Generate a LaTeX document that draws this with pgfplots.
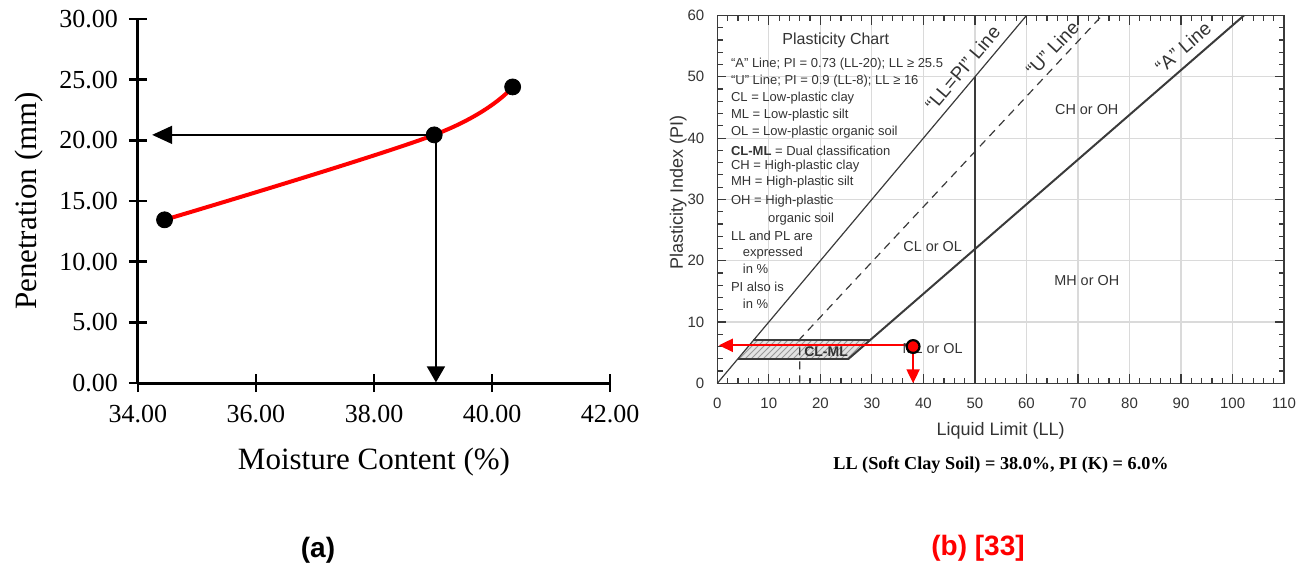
\documentclass[border=0pt]{standalone}
\usepackage{fontspec}
\setmainfont{Liberation Serif}
\newfontfamily\arial{Liberation Sans}
\usepackage{pgfplots}
\pgfplotsset{compat=1.18}
\usetikzlibrary{arrows.meta,patterns}
\definecolor{ink}{HTML}{3A3A3A}
\definecolor{txt}{HTML}{333333}
\definecolor{gridc}{HTML}{DADADA}
\newcommand{\lgd}{\arial\fontsize{6.5}{7.5}\selectfont}
\newcommand{\reg}{\arial\fontsize{7.2}{8.5}\selectfont}
\newcommand{\rot}{\arial\fontsize{9.5}{11}\selectfont}

\begin{document}
\begin{tikzpicture}
\useasboundingbox (0,0) rectangle (658pt,282pt);

% ===== (a) fall cone : penetration vs moisture =====
\begin{axis}[
  at={(69pt,90.5pt)}, anchor=south west,
  scale only axis, width=236pt, height=182pt,
  xmin=34, xmax=42, ymin=0, ymax=30,
  axis lines=left,
  axis line style={-, line width=1.5pt, black},
  xtick={34,36,38,40,42}, ytick={0,5,10,15,20,25,30},
  tick align=center, major tick length=9pt,
  tick style={line width=1.3pt, black},
  /pgf/number format/assume math mode=true,
  ticklabel style={font=\fontsize{13}{15}\selectfont,
    /pgf/number format/fixed, /pgf/number format/fixed zerofill,
    /pgf/number format/precision=2},
  xticklabel style={yshift=-3pt},
  yticklabel style={xshift=-2pt},
  xlabel={Moisture Content (\%)},
  ylabel={Penetration (mm)},
  xlabel style={at={(axis description cs:0.5,-0.217)}, anchor=center,
    font=\fontsize{15.5}{18}\selectfont},
  ylabel style={at={(axis description cs:-0.23,0.5)}, anchor=center,
    font=\fontsize{15.5}{18}\selectfont},
  clip=false,
]
  \addplot[red, line width=2pt, smooth, tension=0.6]
    coordinates {(34.45,13.45) (39.02,20.45) (40.35,24.4)};
  % read-off arrows at the measured point
  \addplot[black, line width=0.8pt, -{Triangle[length=10pt,width=9pt]}]
    coordinates {(39.02,20.45) (34.24,20.45)};
  \addplot[black, line width=0.8pt, -{Triangle[length=8pt,width=9pt]}]
    coordinates {(39.05,20.45) (39.05,0.05)};
  \addplot[only marks, mark=*, mark size=4pt, black]
    coordinates {(34.45,13.45) (39.02,20.45) (40.35,24.4)};
\end{axis}

% ===== (b) plasticity chart =====
\begin{axis}[
  at={(358.65pt,90.35pt)}, anchor=south west,
  scale only axis, width=283.4pt, height=183.9pt,
  xmin=0, xmax=110, ymin=0, ymax=60,
  xtick={0,10,...,110}, ytick={0,10,...,60},
  minor x tick num=4, minor y tick num=4,
  grid=major, major grid style={gridc, line width=0.6pt},
  tick align=inside, major tick length=4.5pt, minor tick length=2.8pt,
  tick style={ink, line width=0.6pt},
  axis line style={ink, line width=0.8pt},
  /pgf/number format/assume math mode=true,
  ticklabel style={font=\arial\fontsize{7.5}{9}\selectfont, text=txt},
  xticklabel style={yshift=-4pt},
  yticklabel style={xshift=-3pt},
  xlabel={Liquid Limit (LL)},
  ylabel={Plasticity Index (PI)},
  xlabel style={at={(axis description cs:0.5,-0.13)}, anchor=center,
    font=\arial\fontsize{9}{11}\selectfont, text=txt},
  ylabel style={at={(axis description cs:-0.069,0.52)}, anchor=center,
    font=\arial\fontsize{9}{11}\selectfont, text=txt},
  clip=false,
]
  % CL-ML hatched band
  \addplot[fill=gray!22, draw=none,
           postaction={pattern=north east lines, pattern color=gray!80}]
    coordinates {(4,4) (7,7) (29.59,7) (25.48,4)} -- cycle;
  \addplot[ink, line width=1pt] coordinates {(7,7) (29.59,7)};
  \addplot[ink, line width=0.8pt] coordinates {(4,4) (25.48,4)};

  % LL = PI line
  \addplot[ink, line width=0.6pt] coordinates {(0,0) (60,60)};
  % U line
  \addplot[ink, line width=0.6pt, dash pattern=on 4pt off 3pt]
    coordinates {(16,0) (16,7.2) (74.67,60)};
  % A line
  \addplot[ink, line width=1pt] coordinates {(25.48,4) (102.19,60)};
  % LL = 50
  \addplot[ink, line width=0.8pt] coordinates {(50,0) (50,50)};

  % red read-off
  \addplot[red, line width=1.1pt, -{Triangle[length=7pt,width=6.5pt]}]
    coordinates {(37.5,6.2) (0.3,6.2)};
  \addplot[red, line width=1.1pt, -{Triangle[length=7pt,width=6.5pt]}]
    coordinates {(38,6) (38,0)};

  % legend block
  \node[font=\arial\fontsize{8}{9.5}\selectfont, text=txt] at (axis cs:23,56.0) {Plasticity Chart};
  \node[font=\lgd, text=txt, anchor=west] at (axis cs:1.3,52.04) {“A” Line; PI = 0.73 (LL-20); LL ≥ 25.5};
  \node[font=\lgd, text=txt, anchor=west] at (axis cs:1.3,49.26) {“U” Line; PI = 0.9 (LL-8); LL ≥ 16};
  \node[font=\lgd, text=txt, anchor=west] at (axis cs:1.3,46.48) {CL = Low-plastic clay};
  \node[font=\lgd, text=txt, anchor=west] at (axis cs:1.3,43.70) {ML = Low-plastic silt};
  \node[font=\lgd, text=txt, anchor=west] at (axis cs:1.3,40.92) {OL = Low-plastic organic soil};
  \node[font=\lgd, text=txt, anchor=west] at (axis cs:1.3,37.98) {{\bfseries CL-ML} = Dual classification};
  \node[font=\lgd, text=txt, anchor=west] at (axis cs:1.3,35.37) {CH = High-plastic clay};
  \node[font=\lgd, text=txt, anchor=west] at (axis cs:1.3,32.75) {MH = High-plastic silt};
  \node[font=\lgd, text=txt, anchor=west] at (axis cs:1.3,29.65) {OH = High-plastic};
  \node[font=\lgd, text=txt, anchor=west] at (axis cs:8.5,26.86) {organic soil};
  \node[font=\lgd, text=txt, anchor=west] at (axis cs:1.3,24.08) {LL and PL are};
  \node[font=\lgd, text=txt, anchor=west] at (axis cs:3.6,21.30) {expressed};
  \node[font=\lgd, text=txt, anchor=west] at (axis cs:3.6,18.69) {in \%};
  \node[font=\lgd, text=txt, anchor=west] at (axis cs:1.3,15.74) {PI also is};
  \node[font=\lgd, text=txt, anchor=west] at (axis cs:3.6,12.96) {in \%};

  % line names
  \node[font=\rot, text=txt, rotate=49.8] at (axis cs:47.6,51.4) {“LL=PI” Line};
  \node[font=\rot, text=txt, rotate=46.7] at (axis cs:65.0,54.6) {“U” Line};
  \node[font=\rot, text=txt, rotate=40.8] at (axis cs:90.4,54.8) {“A” Line};

  % zone names
  \node[font=\reg, text=txt] at (axis cs:71.7,44.6) {CH or OH};
  \node[font=\reg, text=txt] at (axis cs:71.7,16.8) {MH or OH};
  \node[font=\reg, text=txt] at (axis cs:41.8,22.3) {CL or OL};
  \node[font=\reg, text=txt] at (axis cs:41.8,5.6) {ML or OL};
  \node[font=\arial\bfseries\fontsize{7}{8}\selectfont, text=txt] at (axis cs:21.1,5.2) {CL-ML};

  % the soft clay soil
  \addplot[only marks, mark=*, mark size=3.2pt,
           mark options={fill=red, draw=black, line width=1.1pt}]
    coordinates {(38,6)};
\end{axis}

\node[font=\bfseries\fontsize{9.1}{11}\selectfont] at (500.5pt,49.5pt)
  {LL (Soft Clay Soil) = 38.0\%, PI (K) = 6.0\%};
\node[font=\arial\bfseries\fontsize{14}{16}\selectfont] at (159pt,7pt) {(a)};
\node[font=\arial\bfseries\fontsize{14}{16}\selectfont, text=red] at (489pt,8pt) {(b) [33]};

\end{tikzpicture}
\end{document}
